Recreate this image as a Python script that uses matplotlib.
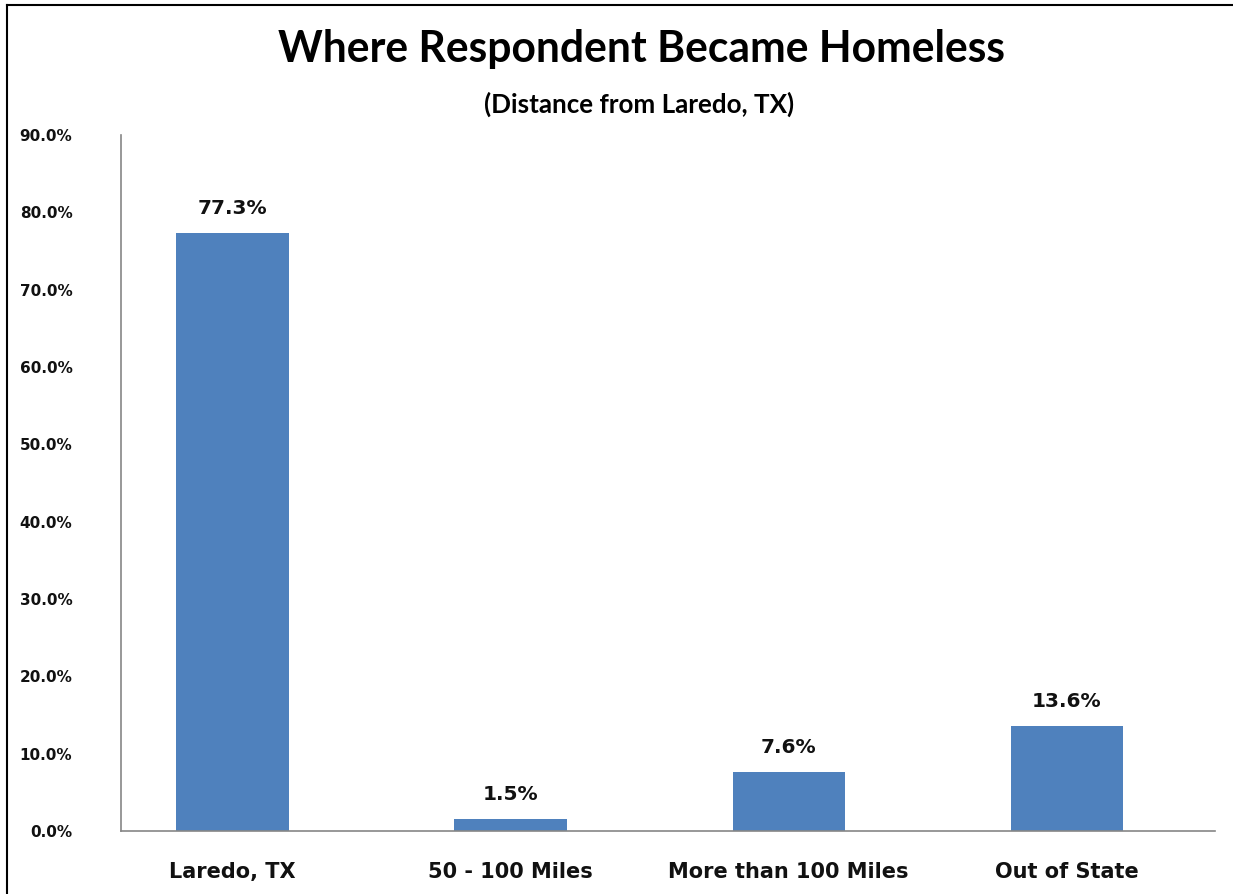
import matplotlib
matplotlib.use("Agg")
import matplotlib.pyplot as plt
from matplotlib import font_manager
from matplotlib.ticker import FuncFormatter
from matplotlib.lines import Line2D

categories = ["Laredo, TX", "50 - 100 Miles", "More than 100 Miles", "Out of State"]
values = [77.3, 1.5, 7.6, 13.6]
yticks = [0, 10, 20, 30, 40, 50, 60, 70, 80, 90]
title = "Where Respondent Became Homeless"
subtitle = "(Distance from Laredo, TX)"

W, H, DPI = 1233, 894, 100
fig = plt.figure(figsize=(W / DPI, H / DPI), dpi=DPI)
fig.patch.set_facecolor("white")

names = {f.name for f in font_manager.fontManager.ttflist}
title_font = "Lato" if "Lato" in names else "DejaVu Sans"
label_font = "DejaVu Sans"

ax = fig.add_axes([121 / W, (H - 831) / H, (1215 - 121) / W, (831 - 135) / H])
x = list(range(len(categories)))
bars = ax.bar(x, values, width=0.403, color="#4F81BD", zorder=2)
ax.set_xlim(-0.401, 3.534)
ax.set_ylim(0, 90)
ax.set_yticks(yticks)
ax.yaxis.set_major_formatter(FuncFormatter(lambda v, p: f"{v:.1f}%"))
ax.set_xticks(x)
ax.set_xticklabels(categories)
for s in ["top", "right"]:
    ax.spines[s].set_visible(False)
for s in ["left", "bottom"]:
    ax.spines[s].set_color("#868686")
    ax.spines[s].set_linewidth(1.2)
ax.tick_params(axis="y", length=0, pad=35, labelsize=11)
ax.tick_params(axis="x", length=0, pad=22, labelsize=15)
for lab in ax.get_yticklabels() + ax.get_xticklabels():
    lab.set_fontfamily(label_font)
    lab.set_fontweight("bold")
    lab.set_color("#111111")

for xi, v in zip(x, values):
    ax.annotate(f"{v:.1f}%", (xi, v), xytext=(0, 11), textcoords="offset points",
                ha="center", va="bottom", fontsize=14.5, fontweight="bold",
                fontfamily=label_font, color="#111111")

# titles fitted to measured widths
def fitted(text, xc, y, target_w, size, weight):
    t = fig.text(xc / W, y, text, ha="center", va="baseline", fontsize=size,
                 fontfamily=title_font, fontweight=weight, color="black")
    fig.canvas.draw()
    w = t.get_window_extent().width
    t.set_fontsize(size * target_w / w)
    return t

fitted(title, 0.5 * (277 + 1005), 1 - 62 / H, 728, 30, "bold")
fitted(subtitle, 0.5 * (484 + 795), 1 - 113 / H, 311, 14, "bold")

# outer frame lines (left and top)
fig.add_artist(Line2D([6.5 / W, 6.5 / W], [0, 1 - 5 / H], color="black", lw=1.5, transform=fig.transFigure))
fig.add_artist(Line2D([6.5 / W, 1], [1 - 5 / H, 1 - 5 / H], color="black", lw=1.5, transform=fig.transFigure))

fig.savefig("out.png", dpi=DPI, facecolor="white")
